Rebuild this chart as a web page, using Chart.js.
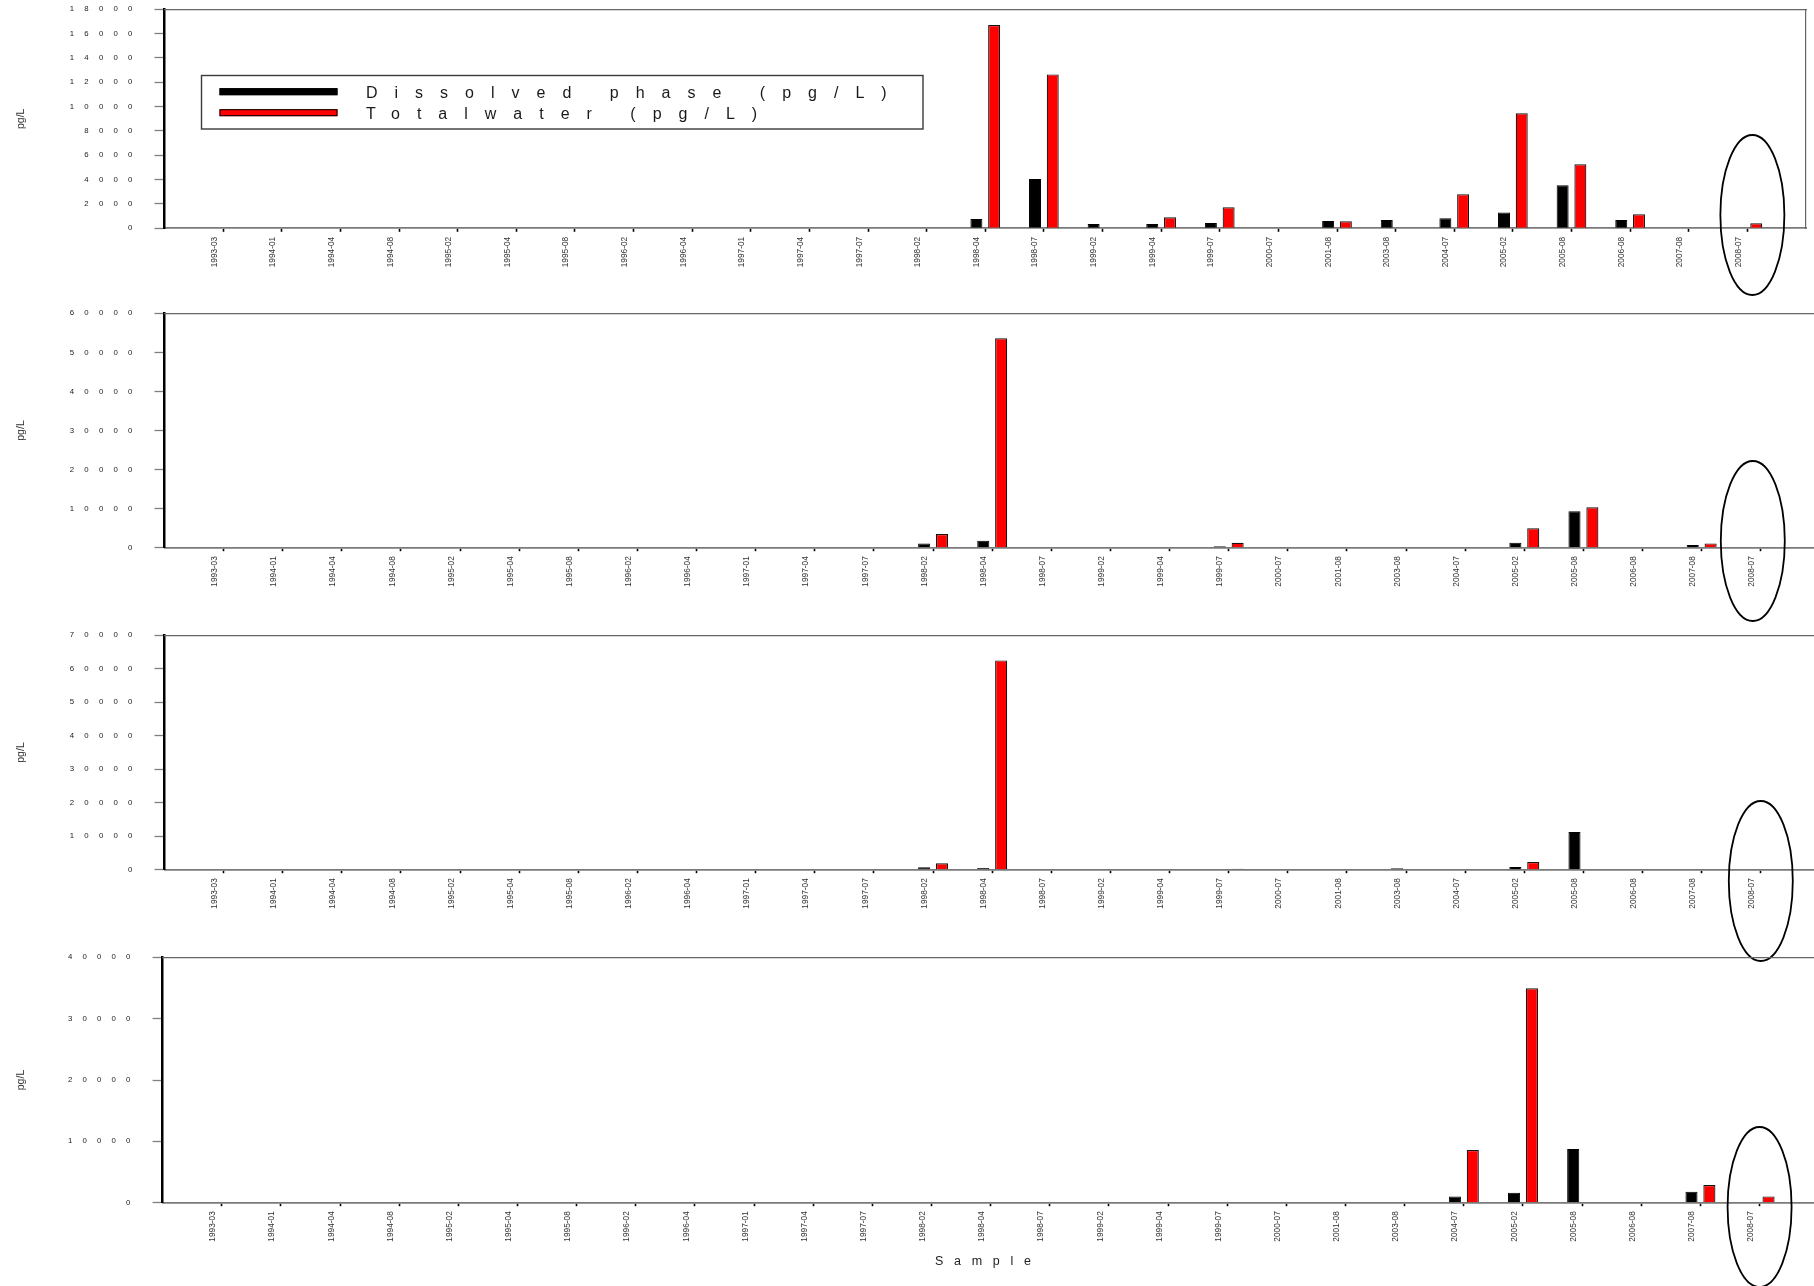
<!DOCTYPE html>
<html>
<head>
<meta charset="utf-8">
<title>pg/L by sample</title>
<script src="https://cdn.jsdelivr.net/npm/chart.js@4.4.1/dist/chart.umd.min.js"></script>
<style>
  html, body { margin: 0; padding: 0; background: #ffffff; }
  #wrap { position: relative; width: 1814px; height: 1286px; overflow: hidden; background: #ffffff; }
  #wrap canvas { position: absolute; left: 0; top: 0; }
</style>
</head>
<body>
<div id="wrap">
  <canvas id="panel1" width="1814" height="1286"></canvas>
  <canvas id="panel2" width="1814" height="1286"></canvas>
  <canvas id="panel3" width="1814" height="1286"></canvas>
  <canvas id="panel4" width="1814" height="1286"></canvas>
</div>
<script>
// ---- data ----
const CATEGORIES = ['1993-03','1994-01','1994-04','1994-08','1995-02','1995-04','1995-08','1996-02','1996-04',
  '1997-01','1997-04','1997-07','1998-02','1998-04','1998-07','1999-02','1999-04','1999-07','2000-07','2001-08',
  '2003-08','2004-07','2005-02','2005-08','2006-08','2007-08','2008-07'];
const SERIES_LABELS = ['Dissolved phase (pg/L)', 'Totalwater (pg/L)'];
const X_TITLE = 'Sample';
const Y_TITLE = 'pg/L';
const N = null;

//                    93-03 94-01 94-04 94-08 95-02 95-04 95-08 96-02 96-04 97-01 97-04 97-07 98-02 98-04  98-07  99-02 99-04 99-07 00-07 01-08 03-08 04-07 05-02  05-08  06-08 07-08 08-07
const P1_DISSOLVED = [N,    N,    N,    N,    N,    N,    N,    N,    N,    N,    N,    N,    N,    760,   4050,  350,  350,  430,  N,    600,  680,  820,  1290,  3530,  680,  N,    N];
const P1_TOTAL     = [N,    N,    N,    N,    N,    N,    N,    N,    N,    N,    N,    N,    N,    16700, 12650, N,    900,  1720, N,    580,  N,    2800, 9450,  5260,  1150, N,    410];
const P2_DISSOLVED = [N,    N,    N,    N,    N,    N,    N,    N,    N,    N,    N,    N,    1100, 1800,  N,     N,    N,    340,  N,    N,    N,    N,    1280,  9300,  N,    680,  N];
const P2_TOTAL     = [N,    N,    N,    N,    N,    N,    N,    N,    N,    N,    N,    N,    3500, 53600, N,     N,    N,    1280, N,    N,    N,    N,    4950,  10330, N,    1100, N];
const P3_DISSOLVED = [N,    N,    N,    N,    N,    N,    N,    N,    N,    N,    N,    N,    700,  500,   N,     N,    N,    N,    N,    N,    450,  N,    800,   11250, N,    N,    N];
const P3_TOTAL     = [N,    N,    N,    N,    N,    N,    N,    N,    N,    N,    N,    N,    1900, 62500, N,     N,    N,    300,  N,    N,    N,    N,    2300,  N,     N,    N,    N];
const P4_DISSOLVED = [N,    N,    N,    N,    N,    N,    N,    N,    N,    N,    N,    N,    N,    N,     N,     N,    N,    N,    N,    N,    N,    1030, 1630,  8750,  N,    1790, N];
const P4_TOTAL     = [N,    N,    N,    N,    N,    N,    N,    N,    N,    N,    N,    N,    N,    N,     N,     N,    N,    N,    N,    N,    N,    8600, 34950, N,     N,    2880, 1030];

const Y_MAX  = [18000, 60000, 70000, 40000];
const Y_STEP = [2000, 10000, 10000, 10000];
const MARKED_CATEGORY = '2008-07';

// ---- drawing ----
const CANVAS_W = 1814, CANVAS_H = 1286;
const FONT = "'Liberation Sans', Arial, Helvetica, sans-serif";
Chart.defaults.font.family = FONT;

// Linear scale whose tick labels and title can be drawn letter-spaced.
class SpacedLinearScale extends Chart.LinearScale {
  drawLabels(area) {
    const c = this.ctx;
    c.save();
    c.letterSpacing = (this.options.ticks.letterSpacing || 0) + 'px';
    super.drawLabels(area);
    c.restore();
  }
  drawTitle() {
    const c = this.ctx;
    c.save();
    c.letterSpacing = (this.options.title.letterSpacing || 0) + 'px';
    super.drawTitle();
    c.restore();
  }
}
SpacedLinearScale.id = 'spacedLinear';
Chart.register(SpacedLinearScale);

// Ellipse drawn around one category, centred from the scales.
const ellipseMarker = {
  id: 'ellipseMarker',
  afterDraw(chart, args, o) {
    if (!o || !o.category) return;
    const xs = chart.scales.x, ys = chart.scales.y;
    const cx = xs.getPixelForValue(CATEGORIES.indexOf(o.category) + 1) + o.dx;
    const cy = ys.getPixelForValue(0) + o.dy;
    const ctx = chart.ctx;
    ctx.save();
    ctx.beginPath();
    ctx.ellipse(cx, cy, o.rx, o.ry, 0, 0, Math.PI * 2);
    ctx.lineWidth = o.lineWidth;
    ctx.strokeStyle = o.color;
    ctx.stroke();
    ctx.restore();
  }
};

// Boxed legend with long line samples, placed inside the plot.
const boxedLegend = {
  id: 'boxedLegend',
  afterDraw(chart, args, o) {
    if (!o || !o.display) return;
    const ctx = chart.ctx, a = chart.chartArea;
    const x0 = a.left + o.offsetX, y0 = a.top + o.offsetY;
    ctx.save();
    ctx.fillStyle = '#ffffff';
    ctx.fillRect(x0, y0, o.width, o.height);
    ctx.strokeStyle = o.borderColor;
    ctx.lineWidth = o.borderWidth;
    ctx.strokeRect(x0, y0, o.width, o.height);
    ctx.font = o.fontSize + 'px ' + FONT;
    ctx.letterSpacing = o.letterSpacing + 'px';
    ctx.textBaseline = 'alphabetic';
    ctx.textAlign = 'left';
    chart.data.datasets.forEach((ds, i) => {
      const cy = y0 + o.firstRowY + i * o.rowGap;
      ctx.fillStyle = ds.backgroundColor;
      ctx.fillRect(x0 + o.sampleX, cy - o.sampleH / 2, o.sampleW, o.sampleH);
      ctx.strokeStyle = '#000000';
      ctx.lineWidth = 1;
      ctx.strokeRect(x0 + o.sampleX + 0.5, cy - o.sampleH / 2 + 0.5, o.sampleW - 1, o.sampleH - 1);
      ctx.fillStyle = o.textColor;
      ctx.fillText(ds.label, x0 + o.textX, cy + o.baselineShift);
    });
    ctx.restore();
  }
};

function toPoints(values) {
  return values.map((v, i) => ({ x: i + 1, y: v }));
}

const PANELS = [
  { canvas: 'panel1', dissolved: P1_DISSOLVED, total: P1_TOTAL, yMax: Y_MAX[0], yStep: Y_STEP[0],
    area: { left: 164.5, top: 9.3, bottom: 228.3, right: 1806 }, xMax: 28, xAxisH: 50,
    closedRight: true, legend: true, xTitle: false, ellipse: { dx: 5, dy: -13.3 } },
  { canvas: 'panel2', dissolved: P2_DISSOLVED, total: P2_TOTAL, yMax: Y_MAX[1], yStep: Y_STEP[1],
    area: { left: 164.5, top: 313.3, bottom: 547.7, right: CANVAS_W }, xMax: 27.9, xAxisH: 50,
    closedRight: false, legend: false, xTitle: false, ellipse: { dx: -8, dy: -6.7 } },
  { canvas: 'panel3', dissolved: P3_DISSOLVED, total: P3_TOTAL, yMax: Y_MAX[2], yStep: Y_STEP[2],
    area: { left: 164.5, top: 635.3, bottom: 869.7, right: CANVAS_W }, xMax: 27.9, xAxisH: 50,
    closedRight: false, legend: false, xTitle: false, ellipse: { dx: 0, dy: 11.3 } },
  { canvas: 'panel4', dissolved: P4_DISSOLVED, total: P4_TOTAL, yMax: Y_MAX[3], yStep: Y_STEP[3],
    area: { left: 162.6, top: 957.3, bottom: 1202.7, right: CANVAS_W }, xMax: 27.92, xAxisH: 83.3,
    closedRight: false, legend: false, xTitle: true, ellipse: { dx: 0, dy: 4.3 } }
];

function buildPanel(p) {
  const scales = {
    x: {
      type: 'spacedLinear', position: 'bottom', min: 0, max: p.xMax, offset: false,
      afterBuildTicks: (s) => { s.ticks = CATEGORIES.map((c, i) => ({ value: i + 1 })); },
      afterFit: (s) => { s.height = p.xAxisH; s.paddingLeft = 0; s.paddingRight = 0; },
      ticks: {
        autoSkip: false, minRotation: 90, maxRotation: 90, padding: 5, labelOffset: -8.7,
        font: { family: FONT, size: 8.3 }, color: '#333333',
        callback: (v) => CATEGORIES[v - 1] ?? ''
      },
      grid: { display: true, offset: false, drawOnChartArea: false, drawTicks: true, tickLength: 3.5, tickWidth: 1.6, tickColor: '#000000' },
      border: { display: true, color: '#7a7a7a', width: 1.7 },
      title: {
        display: p.xTitle, text: X_TITLE, color: '#222222', letterSpacing: 10.7,
        font: { family: FONT, size: 12.5 }, padding: { top: 0, bottom: 16.5 }
      }
    },
    y: {
      type: 'spacedLinear', position: 'left', min: 0, max: p.yMax,
      afterFit: (s) => { s.width = p.area.left; s.paddingTop = 0; s.paddingBottom = 0; },
      ticks: {
        stepSize: p.yStep, autoSkip: false, padding: 12, letterSpacing: 10.2,
        font: { family: FONT, size: 7.8 }, color: '#222222',
        callback: (v) => String(v)
      },
      grid: { display: true, drawOnChartArea: false, drawTicks: true, tickLength: 10, tickWidth: 1.3, tickColor: '#808080' },
      border: { display: true, color: '#000000', width: 2.5 },
      title: {
        display: true, text: Y_TITLE, color: '#333333',
        font: { family: FONT, size: 10.5 }, padding: { top: 14.7, bottom: 0 }
      }
    },
    xTop: {
      type: 'linear', position: 'top', min: 0, max: 1, offset: false,
      afterFit: (s) => { s.height = 0; s.paddingLeft = 0; s.paddingRight = 0; },
      ticks: { display: false },
      grid: { display: true, drawOnChartArea: false, drawTicks: false },
      border: { display: true, color: '#666666', width: 1.2 }
    }
  };
  if (p.closedRight) {
    scales.yRight = {
      type: 'linear', position: 'right', min: 0, max: 1,
      afterFit: (s) => { s.width = 0; s.paddingTop = 0; s.paddingBottom = 0; },
      ticks: { display: false },
      grid: { display: true, drawOnChartArea: false, drawTicks: false },
      border: { display: true, color: '#666666', width: 1.2 }
    };
  }

  return new Chart(document.getElementById(p.canvas), {
    type: 'bar',
    data: {
      datasets: [
        { label: SERIES_LABELS[0], data: toPoints(p.dissolved), backgroundColor: '#000000', borderColor: '#000000',
          borderWidth: 1, categoryPercentage: 0.605, barPercentage: 0.675, xAxisID: 'x', yAxisID: 'y' },
        { label: SERIES_LABELS[1], data: toPoints(p.total), backgroundColor: '#ff0000', borderColor: '#141414',
          borderWidth: 1.2, categoryPercentage: 0.605, barPercentage: 0.675, xAxisID: 'x', yAxisID: 'y' }
      ]
    },
    options: {
      responsive: false, animation: false, devicePixelRatio: 1, events: [],
      layout: {
        padding: {
          left: 0, top: p.area.top, right: CANVAS_W - p.area.right,
          bottom: CANVAS_H - p.area.bottom - p.xAxisH
        }
      },
      scales,
      plugins: {
        legend: { display: false },
        tooltip: { enabled: false },
        ellipseMarker: {
          category: MARKED_CATEGORY, dx: p.ellipse.dx, dy: p.ellipse.dy,
          rx: 32, ry: 80, lineWidth: 1.8, color: '#000000'
        },
        boxedLegend: {
          display: p.legend, offsetX: 37, offsetY: 66.2, width: 721.5, height: 53.5,
          borderColor: '#3a3a3a', borderWidth: 1.4,
          sampleX: 18, sampleW: 118, sampleH: 7, firstRowY: 16.2, rowGap: 21,
          textX: 164.5, baselineShift: 6.6, fontSize: 16, letterSpacing: 17, textColor: '#1a1a1a'
        }
      }
    },
    plugins: [ellipseMarker, boxedLegend]
  });
}

PANELS.forEach(buildPanel);
</script>
</body>
</html>
